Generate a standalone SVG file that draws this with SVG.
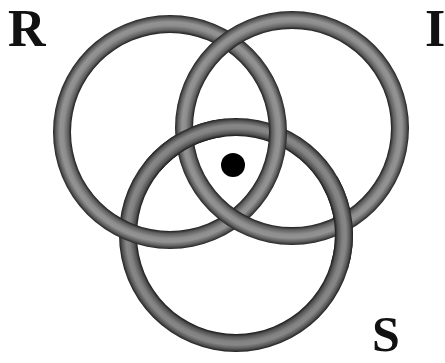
<svg xmlns="http://www.w3.org/2000/svg" width="445" height="363" viewBox="0 0 445 363">
<style>
.lbl{font-family:"Liberation Serif","Times New Roman",serif;font-weight:bold;fill:#111}
</style>
<defs>
<radialGradient id="gR" gradientUnits="userSpaceOnUse" cx="170" cy="132" r="117">
<stop offset="0.846" stop-color="#1e1e1e"/><stop offset="0.87" stop-color="#5e5e5e"/><stop offset="0.91" stop-color="#8e8e8e"/><stop offset="0.94" stop-color="#939393"/><stop offset="0.975" stop-color="#5e5e5e"/><stop offset="1" stop-color="#222"/>
</radialGradient>
<radialGradient id="gI" gradientUnits="userSpaceOnUse" cx="292" cy="128" r="117">
<stop offset="0.846" stop-color="#1e1e1e"/><stop offset="0.87" stop-color="#5e5e5e"/><stop offset="0.91" stop-color="#8e8e8e"/><stop offset="0.94" stop-color="#939393"/><stop offset="0.975" stop-color="#5e5e5e"/><stop offset="1" stop-color="#222"/>
</radialGradient>
<radialGradient id="gS" gradientUnits="userSpaceOnUse" cx="236" cy="235" r="117">
<stop offset="0.846" stop-color="#1a1a1a"/><stop offset="0.87" stop-color="#545454"/><stop offset="0.91" stop-color="#828282"/><stop offset="0.94" stop-color="#878787"/><stop offset="0.975" stop-color="#575757"/><stop offset="1" stop-color="#1e1e1e"/>
</radialGradient>
</defs>
<g id="ring-S">
<path fill="url(#gS)" fill-rule="evenodd" d="M119,235 a117,117 0 1,0 234,0 a117,117 0 1,0 -234,0 Z M137,235 a99,99 0 1,1 198,0 a99,99 0 1,1 -198,0 Z"/>
</g>
<g id="ring-R">
<path fill="url(#gR)" fill-rule="evenodd" d="M53,132 a117,117 0 1,0 234,0 a117,117 0 1,0 -234,0 Z M71,132 a99,99 0 1,1 198,0 a99,99 0 1,1 -198,0 Z"/>
</g>
<g id="ring-I">
<path fill="url(#gI)" fill-rule="evenodd" d="M175,128 a117,117 0 1,0 234,0 a117,117 0 1,0 -234,0 Z M193,128 a99,99 0 1,1 198,0 a99,99 0 1,1 -198,0 Z"/>
</g>
<g id="ring-S-over">
<path fill="url(#gS)" d="M337.32,176.5 A117,117 0 0 1 347.89,269.21 L330.67,263.95 A99,99 0 0 0 321.73,185.5 Z"/>
<path fill="url(#gS)" d="M146.37,159.8 A117,117 0 0 1 221.74,118.88 L223.93,136.74 A99,99 0 0 0 160.16,171.36 Z"/>
</g>
<g id="dot">
<circle cx="233" cy="165" r="12" fill="#000"/>
</g>
<g id="labels">
<text class="lbl" x="8" y="46" font-size="52">R</text>
<text class="lbl" x="425" y="46" font-size="52">I</text>
<text class="lbl" x="372" y="351" font-size="50">S</text>
</g>
</svg>
